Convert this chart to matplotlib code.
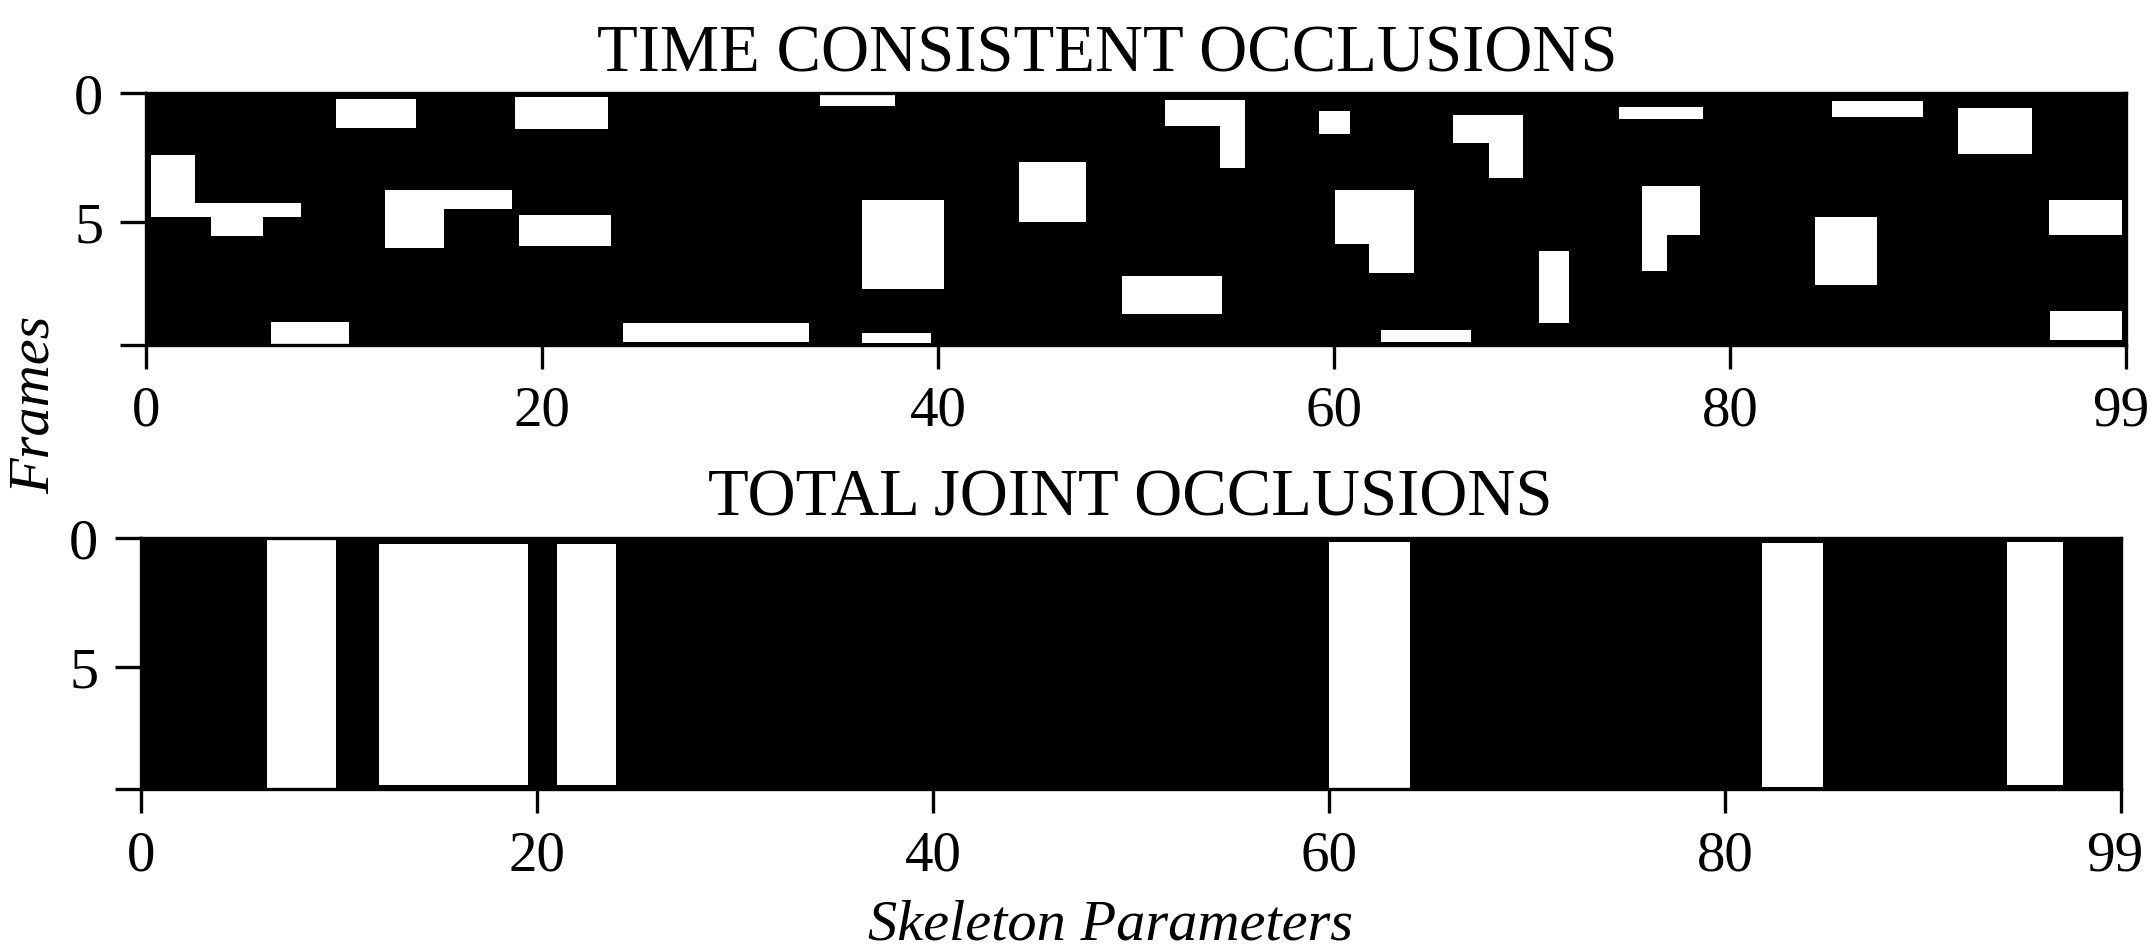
import matplotlib
matplotlib.use("Agg")
import matplotlib.pyplot as plt
from matplotlib.transforms import ScaledTranslation

plt.rcParams['font.family'] = ['Liberation Serif', 'DejaVu Serif']

# white (occluded) blocks: (x0, x1, y0, y1) in parameter / frame units
time_consistent = [
    (9.6, 13.6, 0.22, 1.34),
    (18.6, 23.3, 0.13, 1.38),
    (0.23, 2.46, 2.39, 4.78),
    (2.46, 7.8, 4.24, 4.78),
    (3.27, 5.89, 4.78, 5.52),
    (12.04, 18.47, 3.74, 4.47),
    (12.04, 15.04, 4.47, 5.98),
    (18.83, 23.47, 4.72, 5.90),
    (6.29, 10.22, 8.86, 9.70),
    (24.08, 33.46, 8.90, 9.62),
    (34.03, 37.82, 0.03, 0.48),
    (36.15, 40.27, 4.13, 7.59),
    (36.15, 39.62, 9.28, 9.67),
    (44.06, 47.44, 2.66, 4.98),
    (51.43, 55.49, 0.26, 1.27),
    (54.23, 55.49, 1.27, 2.90),
    (49.27, 54.32, 7.08, 8.55),
    (59.21, 60.79, 0.68, 1.58),
    (60.03, 64.02, 3.74, 5.84),
    (61.74, 64.02, 5.84, 6.96),
    (62.35, 66.9, 9.17, 9.63),
    (66.0, 69.54, 0.84, 1.91),
    (67.8, 69.54, 1.91, 3.29),
    (74.38, 78.62, 0.53, 0.99),
    (70.32, 71.86, 6.11, 8.90),
    (75.54, 78.46, 3.59, 5.49),
    (75.54, 76.8, 5.49, 6.88),
    (85.14, 89.74, 0.30, 0.92),
    (91.49, 95.24, 0.57, 2.35),
    (84.28, 87.39, 4.79, 7.43),
    (96.1, 99.77, 4.13, 5.49),
    (96.14, 99.77, 8.43, 9.55),
]

total_joint = [
    (6.34, 9.83, 0.07, 9.73),
    (12.0, 19.53, 0.22, 9.58),
    (20.99, 23.97, 0.22, 9.58),
    (59.98, 64.06, 0.14, 9.73),
    (81.89, 84.93, 0.18, 9.65),
    (94.22, 97.09, 0.14, 9.58),
]

x_ticks = [0, 20, 40, 60, 80, 100]
x_labels = ['0', '20', '40', '60', '80', '99']
y_ticks = [0, 5, 9.75]
y_labels = ['0', '5', '']
n_params = 100
n_frames = 9.75

fig = plt.figure(figsize=(21.5, 9.52), dpi=100)
ax1 = fig.add_axes([0.0681, 0.6376, 0.9209, 0.2644])
ax2 = fig.add_axes([0.0658, 0.1709, 0.9207, 0.2637])

for ax, blocks in [(ax1, time_consistent), (ax2, total_joint)]:
    ax.set_facecolor('black')
    for x0, x1, y0, y1 in blocks:
        ax.bar(x0, y1 - y0, width=x1 - x0, bottom=y0, align='edge',
               color='white', linewidth=0)
    ax.set_xlim(0, n_params)
    ax.set_ylim(n_frames, 0)
    ax.set_xticks(x_ticks)
    ax.set_xticklabels(x_labels)
    ax.set_yticks(y_ticks)
    ax.set_yticklabels(y_labels)
    ax.tick_params(axis='x', direction='out', length=17.5, width=2.4, pad=12, labelsize=41)
    ax.tick_params(axis='y', direction='out', length=19, width=2.4, pad=12, labelsize=42)
    for s in ax.spines.values():
        s.set_linewidth(2.4)
    # nudge the last label ("99") so it stays inside the figure
    last = ax.get_xticklabels()[-1]
    last.set_transform(last.get_transform() + ScaledTranslation(-6 / 100, 0, fig.dpi_scale_trans))

fig.text(0.5148, 0.925, 'TIME CONSISTENT OCCLUSIONS', ha='center', va='baseline', fontsize=48)
fig.text(0.5256, 0.459, 'TOTAL JOINT OCCLUSIONS', ha='center', va='baseline', fontsize=48)
fig.text(0.016, 0.575, 'Frames', rotation=90, ha='center', va='center', fontsize=42, style='italic')
fig.text(0.5166, 0.013, 'Skeleton Parameters', ha='center', va='baseline', fontsize=42, style='italic')

fig.savefig('out.png', dpi=100)
